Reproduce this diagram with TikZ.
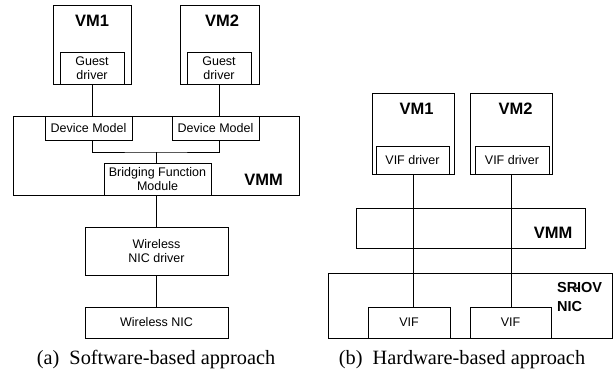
\documentclass[tikz,border=0pt]{standalone}
\usepackage{fontspec}
\setmainfont{Liberation Serif}
\setsansfont{Liberation Sans}
\usetikzlibrary{positioning}

\begin{document}
\begin{tikzpicture}[
    x=1pt, y=-1pt,
    box/.style={draw, line width=0.7pt, inner sep=0pt, align=center, font=\sffamily\fontsize{12.5}{14.5}\selectfont},
    title/.style={inner sep=0pt, align=left, font=\sffamily\bfseries\fontsize{16.5}{19}\selectfont},
    link/.style={line width=0.7pt},
    caption/.style={inner sep=0pt, font=\fontsize{20.3}{24}\selectfont}
]
\useasboundingbox (0,0) rectangle (613,372);

% (a) software-based approach
\node[box, minimum width=78pt, minimum height=79pt] (vma) at (92,44.5) {};
\node[box, minimum width=79pt, minimum height=79pt] (vmb) at (219.5,44.5) {};
\node[title] (vmatxt) at (92,21) {VM1};
\node[title] (vmbtxt) at (222,21) {VM2};
\node[box, minimum width=64pt, minimum height=32pt] (gda) at (92,68) {Guest\\driver};
\node[box, minimum width=64pt, minimum height=32pt] (gdb) at (219,68) {Guest\\driver};
\node[box, minimum width=286pt, minimum height=79pt] (vmm) at (156,155.5) {};
\node[title] (vmmtxt) at (263.5,180) {VMM};
\node[box, minimum width=87pt, minimum height=24pt] (dma) at (88.5,128) {Device Model};
\node[box, minimum width=87pt, minimum height=24pt] (dmb) at (215.5,128) {Device Model};
\node[box, minimum width=107pt, minimum height=32pt] (bfm) at (157.5,179) {Bridging Function\\Module};
\node[box, minimum width=143pt, minimum height=48pt] (nicdrv) at (156.5,251) {Wireless\\NIC driver};
\node[box, minimum width=143pt, minimum height=31pt] (nic) at (156.5,322.5) {Wireless NIC};
\coordinate (fork) at (156,152);
\draw[link] (gda) -- (gda |- dma.north);
\draw[link] (gdb) -- (gdb |- dmb.north);
\draw[link] (dma.south -| gda) |- (fork) -| (dmb.south -| gdb);
\draw[link] (fork) -- (fork |- bfm.north);
\draw[link] (bfm.south -| fork) -- (fork |- nicdrv.north);
\draw[link] (nicdrv) -- (nic);
\node[caption] (capa) at (156,360) {(a)\enspace Software-based approach};

% (b) hardware-based approach
\node[box, minimum width=82pt, minimum height=81pt] (rvma) at (413,133.5) {};
\node[box, minimum width=82pt, minimum height=81pt] (rvmb) at (511,133.5) {};
\node[title] (rvmatxt) at (416.5,109) {VM1};
\node[title] (rvmbtxt) at (515.5,109) {VM2};
\node[box, minimum width=73pt, minimum height=28pt] (vifdrva) at (412.5,160) {VIF driver};
\node[box, minimum width=74pt, minimum height=28pt] (vifdrvb) at (512,160) {VIF driver};
\node[box, minimum width=229pt, minimum height=40pt] (rvmm) at (470.5,228) {};
\node[title] (rvmmtxt) at (553,233) {VMM};
\node[box, minimum width=284pt, minimum height=65pt] (sriov) at (470,305.5) {};
\node[title, anchor=west, font=\sffamily\bfseries\fontsize{14.5}{19}\selectfont] (sriovtxt) at (557,297.5) {SR\kern-2.5pt-\kern-2.5pt IOV\\NIC};
\node[box, minimum width=82pt, minimum height=31pt] (vifa) at (409,322.5) {VIF};
\node[box, minimum width=81pt, minimum height=31pt] (vifb) at (510.5,322.5) {VIF};
\draw[link] (vifdrva.south -| rvma) -- (rvma |- vifa.north);
\draw[link] (vifdrvb.south -| rvmb) -- (rvmb |- vifb.north);
\node[caption] (capb) at (462,360) {(b)\enspace Hardware-based approach};
\end{tikzpicture}
\end{document}
